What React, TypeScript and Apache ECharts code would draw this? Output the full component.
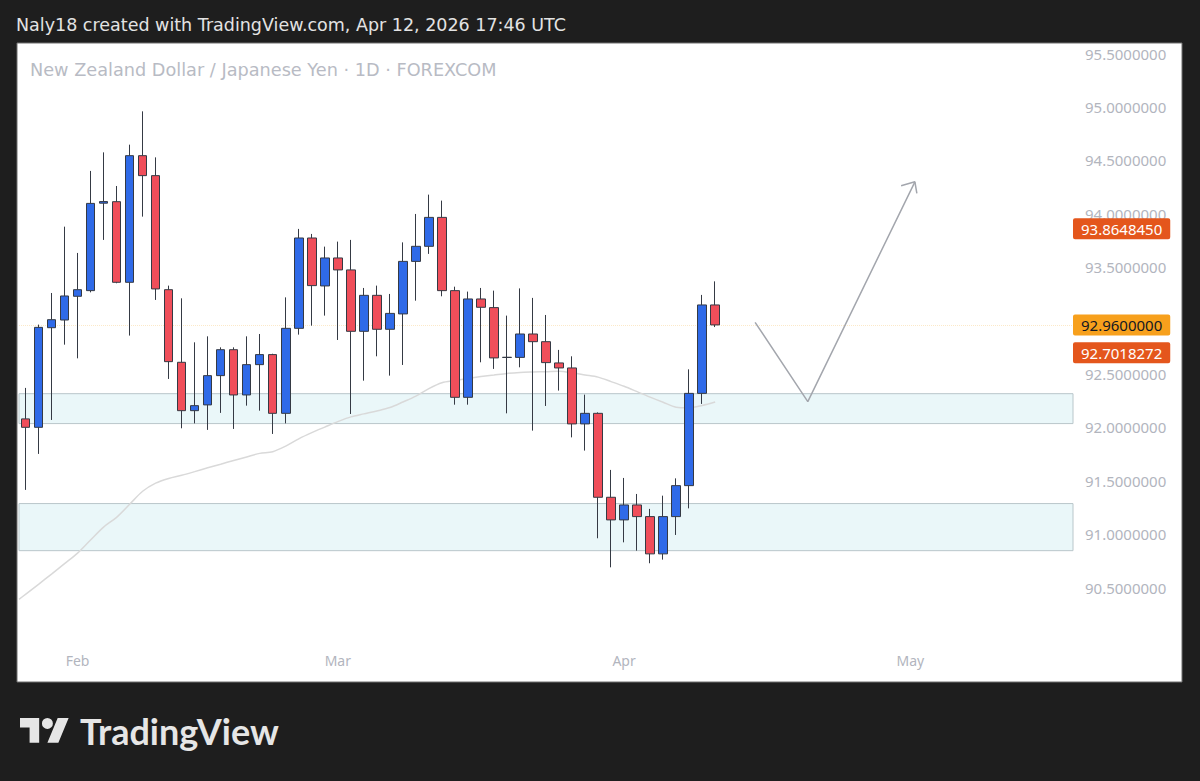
import React, { useEffect, useRef } from "react";
import * as echarts from "echarts";

const HEADER = "Naly18 created with TradingView.com, Apr 12, 2026 17:46 UTC";
const TITLE = "New Zealand Dollar / Japanese Yen · 1D · FOREXCOM";
const BRAND = "TradingView";

const FIRST_DAY = "2026-01-27";
const SLOT_COUNT = 81;
const MONTH_NAMES = ["Jan", "Feb", "Mar", "Apr", "May", "Jun", "Jul", "Aug", "Sep", "Oct", "Nov", "Dec"];

const opens = [
  92.080, 92.001, 92.934, 93.006, 93.228, 93.281, 94.100, 94.114, 93.359, 94.545,
  94.358, 93.290, 92.610, 92.157, 92.211, 92.485, 92.728, 92.304, 92.588, 92.682,
  92.132, 92.928, 93.774, 93.325, 93.587, 93.475, 92.900, 93.237, 92.919, 93.063,
  93.555, 93.696, 93.967, 93.281, 92.282, 93.203, 93.122, 92.655, 92.656, 92.875,
  92.803, 92.604, 92.557, 92.033, 92.132, 91.346, 91.134, 91.274, 91.165, 90.816,
  91.165, 91.455, 92.319, 93.147,
];
const closes = [
  92.001, 92.937, 93.009, 93.231, 93.290, 94.098, 94.115, 93.359, 94.545, 94.358,
  93.297, 92.616, 92.157, 92.204, 92.485, 92.728, 92.304, 92.588, 92.682, 92.132,
  92.928, 93.774, 93.328, 93.587, 93.475, 92.900, 93.237, 92.919, 93.068, 93.555,
  93.696, 93.967, 93.281, 92.282, 93.203, 93.125, 92.651, 92.657, 92.875, 92.803,
  92.607, 92.557, 92.033, 92.132, 91.346, 91.134, 91.274, 91.165, 90.816, 91.165,
  91.455, 92.319, 93.147, 92.960,
];
const lows = [
  91.415, 91.752, 92.070, 92.775, 92.647, 93.265, 93.756, 93.350, 92.860, 93.974,
  93.194, 92.454, 91.992, 92.038, 91.977, 92.136, 91.986, 92.204, 92.157, 91.939,
  92.038, 92.869, 92.953, 93.047, 92.819, 92.126, 92.438, 92.666, 92.485, 92.585,
  93.187, 93.625, 93.228, 92.213, 92.213, 92.610, 92.548, 92.132, 92.563, 91.970,
  92.201, 92.345, 91.907, 91.783, 90.962, 90.690, 90.924, 90.846, 90.728, 90.762,
  90.993, 91.242, 92.220, 92.940,
];
const highs = [
  92.370, 92.963, 93.259, 93.880, 93.634, 94.402, 94.576, 94.261, 94.648, 94.960,
  94.529, 93.328, 93.209, 92.797, 92.853, 92.750, 92.750, 92.853, 92.875, 92.690,
  93.218, 93.859, 93.812, 93.693, 93.740, 93.756, 93.306, 93.328, 93.250, 93.733,
  93.999, 94.180, 94.124, 93.318, 93.272, 93.306, 93.281, 93.047, 93.302, 93.213,
  93.053, 92.726, 92.666, 92.307, 92.141, 91.602, 91.527, 91.377, 91.237, 91.361,
  91.523, 92.544, 93.241, 93.368,
];

// moving average: value half a bar before the first candle, then one per candle
const maLead = 90.39;
const maValues = [
  90.437, 90.531, 90.627, 90.725, 90.823, 90.946, 91.067, 91.158, 91.280, 91.402,
  91.478, 91.522, 91.552, 91.586, 91.622, 91.656, 91.691, 91.724, 91.757, 91.773,
  91.825, 91.893, 91.951, 92.003, 92.054, 92.099, 92.127, 92.154, 92.186, 92.238,
  92.293, 92.364, 92.419, 92.440, 92.459, 92.476, 92.491, 92.506, 92.515, 92.519,
  92.522, 92.527, 92.513, 92.492, 92.471, 92.429, 92.385, 92.335, 92.284, 92.236,
  92.190, 92.185, 92.206, 92.238,
];

const zoneTops = [92.316, 91.287];
const zoneBottoms = [92.036, 90.846];

const tagValues = [93.864845, 92.96, 92.7018272];
const tagTexts = ["93.8648450", "92.9600000", "92.7018272"];
const tagBackgrounds = ["#e4561c", "#f7a01c", "#e4561c"];
const tagColors = ["#ffffff", "#131722", "#ffffff"];

// hand-drawn projection arrow (bar index, price)
const arrowX = [56.07, 60.12, 68.35];
const arrowY = [92.984, 92.242, 94.3];
const arrowHeadX = [67.29, 68.35, 68.5];
const arrowHeadY = [94.264, 94.3, 94.192];

const Y_MIN = 90.0;
const Y_MAX = 95.6;
const Y_STEP = 0.5;
const HIDDEN_TICKS = [90.0, 93.0];

const LOGO_D =
  "M14 22H7V11H0V4h14v18zM28 22h-8l7.5-18h8L28 22zM16 8a4 4 0 1 0 8 0a4 4 0 1 0 -8 0z";

function weekdays(start: string, n: number): string[] {
  const out: string[] = [];
  const d = new Date(start + "T00:00:00Z");
  while (out.length < n) {
    const w = d.getUTCDay();
    if (w !== 0 && w !== 6) out.push(d.toISOString().slice(0, 10));
    d.setUTCDate(d.getUTCDate() + 1);
  }
  return out;
}

let logoRegistered = false;

export default function App() {
  const ref = useRef<HTMLDivElement>(null);

  useEffect(() => {
    if (!ref.current) return;
    if (!logoRegistered) {
      echarts.graphic.registerShape("tvlogo", echarts.graphic.extendPath(LOGO_D, {}));
      logoRegistered = true;
    }
    const chart = echarts.init(ref.current, null, { renderer: "svg" });
    const dates = weekdays(FIRST_DAY, SLOT_COUNT);
    const monthOf = (s: string) => parseInt(s.slice(5, 7), 10) - 1;
    const candles = opens.map((o, i) => [o, closes[i], lows[i], highs[i]]);
    const FONT = "Noto Sans";
    const HEAD_FONT = "DejaVu Sans";
    const AXIS_GREY = "#b2b5be";

    const option: any = {
      animation: false,
      backgroundColor: "#ffffff",
      textStyle: { fontFamily: FONT },
      grid: { left: 19, top: 43, width: 1054, height: 598, containLabel: false },
      xAxis: [
        {
          type: "category",
          data: dates,
          boundaryGap: true,
          axisLine: { show: false },
          axisTick: { show: false },
          splitLine: { show: false },
          axisLabel: {
            color: AXIS_GREY,
            fontSize: 14,
            fontFamily: FONT,
            margin: 12,
            interval: (idx: number, val: string) => idx > 0 && monthOf(val) !== monthOf(dates[idx - 1]),
            formatter: (val: string) => MONTH_NAMES[monthOf(val)],
          },
        },
        {
          type: "value",
          min: -0.5,
          max: SLOT_COUNT - 0.5,
          show: false,
        },
      ],
      yAxis: {
        type: "value",
        position: "right",
        min: Y_MIN,
        max: Y_MAX,
        interval: Y_STEP,
        axisLine: { show: false },
        axisTick: { show: false },
        splitLine: { show: false },
        axisLabel: {
          color: AXIS_GREY,
          fontSize: 15,
          fontFamily: FONT,
          margin: 12,
          formatter: (v: number) => {
            if (Math.abs(v * 2 - Math.round(v * 2)) > 1e-6) return "";
            if (HIDDEN_TICKS.some((h) => Math.abs(h - v) < 1e-6)) return "";
            return v.toFixed(7);
          },
        },
      },
      graphic: [
        { type: "rect", shape: { x: 0, y: 0, width: 1200, height: 43 }, style: { fill: "#1e1e1e" }, z: 50 },
        { type: "rect", shape: { x: 0, y: 0, width: 17, height: 781 }, style: { fill: "#1e1e1e" }, z: 50 },
        { type: "rect", shape: { x: 1182, y: 0, width: 18, height: 781 }, style: { fill: "#1e1e1e" }, z: 50 },
        { type: "rect", shape: { x: 0, y: 682, width: 1200, height: 99 }, style: { fill: "#1e1e1e" }, z: 50 },
        {
          type: "rect",
          shape: { x: 17, y: 43, width: 1165, height: 639 },
          style: { fill: "none", stroke: "#6f6f6f", lineWidth: 1 },
          z: 51,
        },
        {
          type: "text",
          x: 16,
          y: 25,
          z: 60,
          style: { text: HEADER, fill: "#e3e3e3", fontSize: 17.5, fontFamily: HEAD_FONT, verticalAlign: "middle" },
        },
        {
          type: "text",
          x: 30,
          y: 70,
          z: 60,
          style: { text: TITLE, fill: "#b8bbc4", fontSize: 17.7, fontFamily: HEAD_FONT, verticalAlign: "middle" },
        },
        {
          type: "tvlogo",
          x: 20,
          y: 712.5,
          scaleX: 1.37,
          scaleY: 1.37,
          z: 60,
          style: { fill: "#e6e6e6" },
        },
        {
          type: "text",
          x: 80,
          y: 731,
          z: 60,
          style: {
            text: BRAND,
            fill: "#e6e6e6",
            fontSize: 36,
            fontWeight: 700,
            fontFamily: "Lato",
            verticalAlign: "middle",
          },
        },
      ],
      series: [
        {
          name: "MA",
          type: "line",
          xAxisIndex: 1,
          yAxisIndex: 0,
          z: 2,
          symbol: "none",
          silent: true,
          smooth: 0.3,
          data: [[-0.5, maLead], ...maValues.map((v, i) => [i, v])],
          lineStyle: { color: "#d9d9d9", width: 1.5 },
          markArea: {
            silent: true,
            itemStyle: { color: "#eaf7f9", borderColor: "#b9c6ca", borderWidth: 1 },
            data: zoneTops.map((t, i) => [{ yAxis: t }, { yAxis: zoneBottoms[i] }]),
          },
        },
        {
          name: "NZDJPY",
          type: "candlestick",
          xAxisIndex: 0,
          yAxisIndex: 0,
          z: 5,
          barWidth: 9,
          data: candles,
          itemStyle: {
            color: "#2f6ae8",
            color0: "#f04e5a",
            borderColor: "#353a44",
            borderColor0: "#353a44",
            borderWidth: 1,
          },
          markLine: {
            silent: true,
            symbol: ["none", "none"],
            animation: false,
            data: tagValues.map((v, i) => ({
              yAxis: v,
              lineStyle:
                i === 1
                  ? { color: "rgba(245,166,35,0.25)", width: 1, type: "dotted" }
                  : { color: "rgba(0,0,0,0)", width: 0 },
              label: {
                show: true,
                position: "end",
                distance: 0,
                formatter: tagTexts[i],
                backgroundColor: tagBackgrounds[i],
                color: tagColors[i],
                fontSize: 15,
                fontFamily: FONT,
                padding: [3, 8, 3, 8],
                borderRadius: 2,
              },
            })),
          },
        },
        {
          name: "arrow",
          type: "line",
          xAxisIndex: 1,
          yAxisIndex: 0,
          z: 6,
          symbol: "none",
          silent: true,
          data: arrowX.map((x, i) => [x, arrowY[i]]),
          lineStyle: { color: "#a3a6ad", width: 1.5 },
        },
        {
          name: "arrowHead",
          type: "line",
          xAxisIndex: 1,
          yAxisIndex: 0,
          z: 6,
          symbol: "none",
          silent: true,
          data: arrowHeadX.map((x, i) => [x, arrowHeadY[i]]),
          lineStyle: { color: "#a3a6ad", width: 1.5 },
        },
      ],
    };

    chart.setOption(option);
    return () => chart.dispose();
  }, []);

  return (
    <div
      ref={ref}
      style={{ position: "absolute", left: 0, top: 0, width: 1200, height: 781 }}
    />
  );
}
